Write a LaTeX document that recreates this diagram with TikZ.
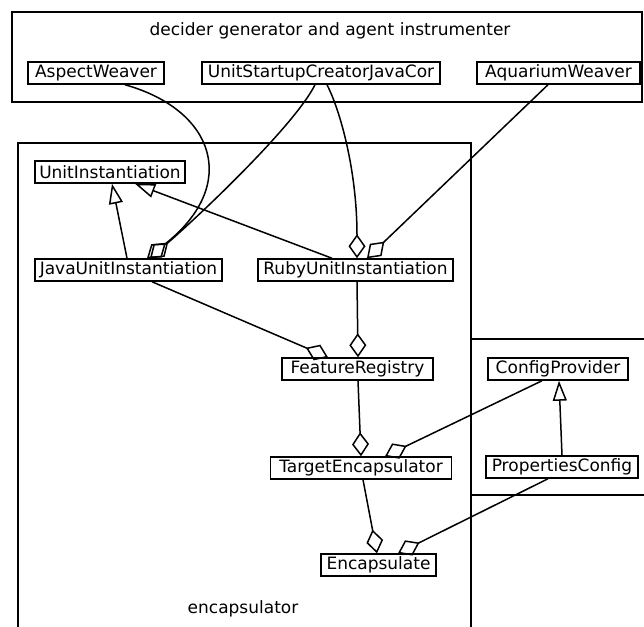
\documentclass[tikz,border=0pt]{standalone}
\usepackage{fontspec}
\setmainfont{DejaVu Sans}
\usetikzlibrary{arrows.meta}
\begin{document}
\begin{tikzpicture}[x=1pt,y=-1pt,line width=1.5pt,
  cls/.style={draw,inner sep=0pt,minimum height=22pt,font=\fontsize{17}{20}\selectfont},
  lbl/.style={inner sep=0pt,font=\fontsize{17}{20}\selectfont},
  agg/.style={-{Diamond[open,length=24pt,width=17pt]}},
  inh/.style={-{Triangle[open,length=20pt,width=14pt]}}]
\useasboundingbox (0,0) rectangle (644,626);
% frames
\draw (12,12) rectangle (642,102);
\draw (18,640) -- (18,143) -- (471,143) -- (471,640);
\draw (660,339) -- (471,339) -- (471,495) -- (660,495);
\node[lbl] (t1) at (330,31) {decider generator and agent instrumenter};
\node[lbl] (t2) at (243,609) {encapsulator};
\node[lbl] (t3) at (560,3) {};
% nodes
\node[cls,minimum width=136pt] (aw) at (96,73) {AspectWeaver};
\node[cls,minimum width=238pt] (usc) at (321,73) {UnitStartupCreatorJavaCor};
\node[cls,minimum width=163pt] (aqw) at (558.5,73) {AquariumWeaver};
\node[cls,minimum width=150pt] (ui) at (110,172) {UnitInstantiation};
\node[cls,minimum width=187pt] (jui) at (128.5,270) {JavaUnitInstantiation};
\node[cls,minimum width=195pt] (rui) at (355.5,270) {RubyUnitInstantiation};
\node[cls,minimum width=151pt] (fr) at (357.5,369) {FeatureRegistry};
\node[cls,minimum width=181pt] (te) at (361,468) {TargetEncapsulator};
\node[cls,minimum width=115pt] (enc) at (378.5,565) {Encapsulate};
\node[cls,minimum width=140pt] (cp) at (558,369) {ConfigProvider};
\node[cls,minimum width=152pt] (pc) at (562,467) {PropertiesConfig};
% connectors
\draw[agg] ([xshift=29pt]aw.south) .. controls (215,110) and (240,185) .. ([xshift=18.5pt]jui.north);
\draw[agg] ([xshift=-6pt]usc.south) .. controls (295,125) and (200,215) .. ([xshift=21.5pt]jui.north);
\draw[agg] ([xshift=6pt]usc.south) .. controls (340,110) and (357,170) .. ([xshift=1.5pt]rui.north);
\draw[agg] ([xshift=-10.5pt]aqw.south) -- ([xshift=11.5pt]rui.north);
\draw[inh] ([xshift=-1.5pt]jui.north) -- ([xshift=2pt]ui.south);
\draw[inh] ([xshift=-23.5pt]rui.north) -- ([xshift=25pt]ui.south);
\draw[agg] ([xshift=23.5pt]jui.south) -- ([xshift=-29.5pt]fr.north);
\draw[agg] ([xshift=1.5pt]rui.south) -- ([xshift=0.5pt]fr.north);
\draw[agg] ([xshift=0.5pt]fr.south) -- (te.north);
\draw[agg] ([xshift=-16pt]cp.south) -- ([xshift=24pt]te.north);
\draw[agg] ([xshift=2pt]te.south) -- ([xshift=-1.5pt]enc.north);
\draw[agg] ([xshift=-14pt]pc.south) -- ([xshift=19.5pt]enc.north);
\draw[inh] (pc.north) -- ([xshift=1pt]cp.south);
\end{tikzpicture}
\end{document}
